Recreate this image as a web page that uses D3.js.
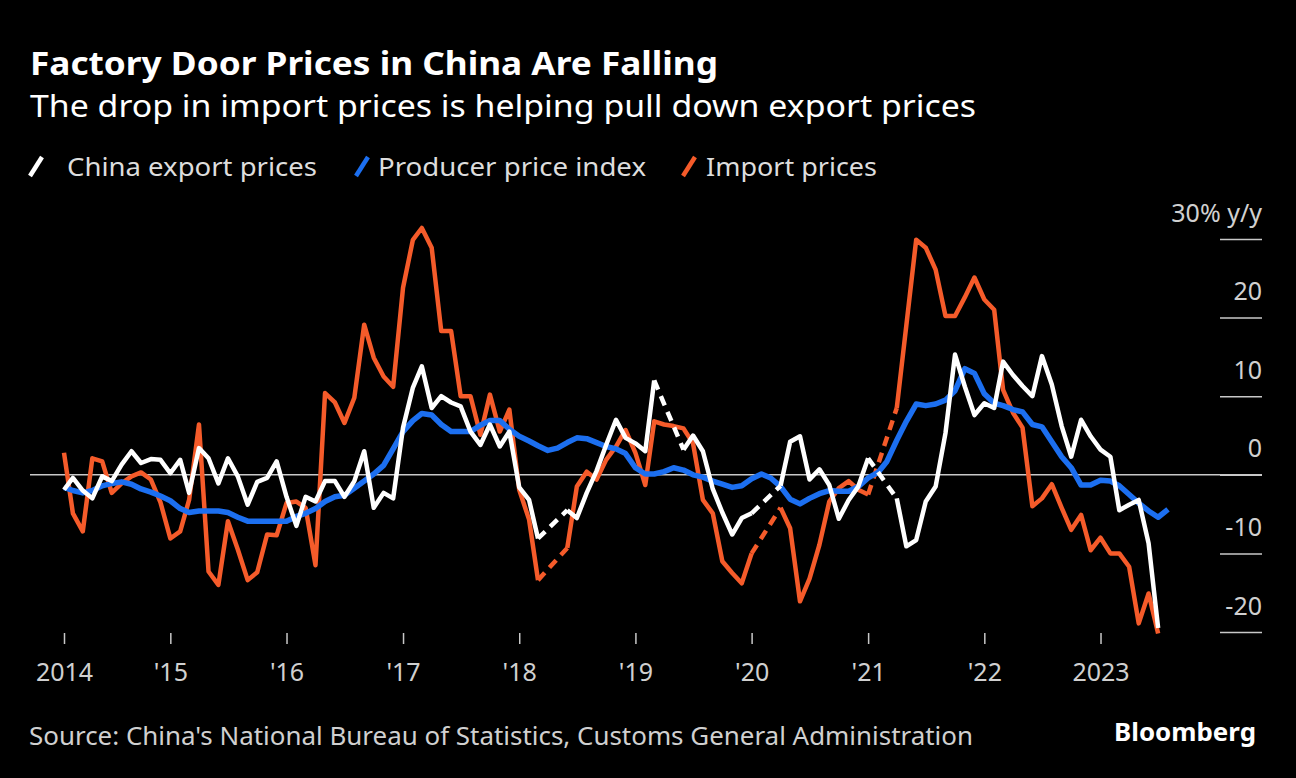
<!DOCTYPE html>
<html><head><meta charset="utf-8">
<script src="https://cdn.jsdelivr.net/npm/d3@7"></script>
<style>
html,body{margin:0;padding:0;background:#000;}
svg{display:block;}
text{font-family:"Noto Sans","Open Sans",sans-serif;}
</style></head><body>
<svg id="chart" width="1296" height="778"></svg>
<script>
// ---- data ----
const firstMonth = "2014-01";
const seriesNames = ["China export prices", "Producer price index", "Import prices"];
const seriesColors = ["#ffffff", "#1c6ff0", "#f55b2a"];
// China export prices, % y/y, Jan 2014 - Jun 2023 (null = missing)
const exportPrices = [
 -1.9,-0.4,-2.0,-3.0,-0.2,-0.8,1.3,3.0,1.5,2.0,1.9,0.2,
 1.9,-2.3,3.4,2.1,-1.1,2.1,-0.2,-3.8,-0.9,-0.4,1.7,-2.8,
 -6.5,-2.8,-3.4,-0.8,-0.8,-2.8,-0.8,3.0,-4.2,-2.3,-3.0,6.0,
 11.1,13.8,8.5,10.0,9.2,8.7,5.5,3.8,6.4,3.6,5.5,-1.6,
 -3.2,-8.1,null,null,-4.5,-5.5,-2.3,0.5,3.8,7.0,4.7,4.0,
 3.0,12.0,null,null,3.2,5.0,3.0,-1.8,-4.8,-7.6,-5.5,-4.9,
 null,null,-1.4,4.2,4.9,-0.6,0.7,-1.3,-5.6,-3.2,-1.5,2.1,
 null,null,-3.0,-9.1,-8.3,-3.4,-1.5,5.3,15.3,11.2,7.6,9.1,
 8.5,14.4,12.7,11.3,10.0,15.1,11.5,6.2,2.3,7.0,4.9,3.2,
 2.3,-4.5,-3.8,-3.2,-8.7,-19.5
];
// Producer price index, % y/y, Jan 2014 - Jul 2023
const producerPriceIndex = [
 -1.6,-2.0,-2.3,-2.0,-1.4,-1.1,-0.9,-1.2,-1.8,-2.2,-2.7,-3.3,
 -4.3,-4.8,-4.6,-4.6,-4.6,-4.8,-5.4,-5.9,-5.9,-5.9,-5.9,-5.9,
 -5.3,-4.9,-4.3,-3.4,-2.8,-2.6,-1.7,-0.8,0.1,1.2,3.3,5.5,
 6.9,7.8,7.6,6.4,5.5,5.5,5.5,6.3,6.9,6.9,5.8,4.9,
 4.3,3.7,3.1,3.4,4.1,4.7,4.6,4.1,3.6,3.3,2.7,0.9,
 0.1,0.1,0.4,0.9,0.6,0.0,-0.3,-0.8,-1.2,-1.6,-1.4,-0.5,
 0.1,-0.4,-1.5,-3.1,-3.7,-3.0,-2.4,-2.0,-2.1,-2.1,-1.5,-0.4,
 0.3,1.7,4.4,6.8,9.0,8.8,9.0,9.5,10.7,13.5,12.9,10.3,
 9.1,8.8,8.3,8.0,6.4,6.1,4.2,2.3,0.9,-1.3,-1.3,-0.7,
 -0.8,-1.4,-2.5,-3.6,-4.6,-5.4,-4.4
];
// Import prices, % y/y, Jan 2014 - Jun 2023 (null = missing)
const importPrices = [
 2.8,-4.9,-7.2,2.1,1.7,-2.3,-1.1,-0.2,0.3,-0.6,-3.5,-8.1,
 -7.2,-3.2,6.4,-12.3,-14.0,-5.9,-9.5,-13.4,-12.4,-7.6,-7.7,-3.6,
 -3.4,-4.2,-11.5,10.4,9.2,6.6,9.8,19.1,14.9,12.5,11.2,23.8,
 29.9,31.4,28.9,18.3,18.3,10.0,10.0,5.1,10.2,5.5,8.3,-1.9,
 -5.7,-13.4,null,null,-9.3,-1.5,0.4,-0.6,1.9,3.6,5.7,2.8,
 -1.3,6.8,6.4,6.2,5.9,4.0,-3.2,-4.9,-11.0,-12.5,-13.8,-10.0,
 null,null,-4.2,-6.8,-16.1,-13.2,-8.9,-3.4,-1.7,-0.8,-1.9,-2.5,
 null,null,8.5,19.0,29.9,28.9,26.1,20.2,20.2,22.6,25.1,22.3,
 21.0,10.8,7.9,6.0,-4.0,-3.0,-1.2,-4.2,-7.0,-5.1,-9.6,-8.0,
 -10.0,-10.0,-11.7,-18.9,-15.1,-20.2
];
const yTickValues = [-20, -10, 0, 10, 20, 30];
const yTickLabels = ["-20", "-10", "0", "10", "20", "30% y/y"];
const xTickLabels = ["2014", "'15", "'16", "'17", "'18", "'19", "'20", "'21", "'22", "2023"];
const titleText = "Factory Door Prices in China Are Falling";
const subtitleText = "The drop in import prices is helping pull down export prices";
const sourceText = "Source: China's National Bureau of Statistics, Customs General Administration";

// ---- helpers ----
const parseMonth = d3.timeParse("%Y-%m");
const start = parseMonth(firstMonth);
// monthly values are plotted at the end of their month
const pointDate = i => d3.timeMonth.offset(start, i + 1);
const toPoints = arr => arr.map((v, i) => ({date: pointDate(i), v}));

const svg = d3.select("#chart");
svg.append("rect").attr("width", 1296).attr("height", 778).attr("fill", "#000");

const x = d3.scaleTime()
  .domain([pointDate(0), pointDate(producerPriceIndex.length - 1)])
  .range([64, 1168]);
const y = d3.scaleLinear().domain([-20, 30]).range([632, 239]);

// ---- header ----
svg.append("text").attr("x", 30).attr("y", 75)
  .attr("font-size", 32).attr("font-weight", 700).attr("fill", "#fff")
  .attr("textLength", 688).attr("lengthAdjust", "spacingAndGlyphs")
  .text(titleText);
svg.append("text").attr("x", 30).attr("y", 117)
  .attr("font-size", 30).attr("fill", "#fff")
  .attr("textLength", 946).attr("lengthAdjust", "spacingAndGlyphs")
  .text(subtitleText);

// ---- legend ----
const legendX = [30, 356, 683];
const legendTextX = [67, 378, 706];
const legendTextW = [250, 268, 171];
const lg = svg.append("g");
seriesNames.forEach((name, i) => {
  lg.append("line")
    .attr("x1", legendX[i]).attr("y1", 176).attr("x2", legendX[i] + 12).attr("y2", 157)
    .attr("stroke", seriesColors[i]).attr("stroke-width", 4.5);
  lg.append("text").attr("x", legendTextX[i]).attr("y", 175.5)
    .attr("font-size", 25).attr("fill", "#dddddd")
    .attr("textLength", legendTextW[i]).attr("lengthAdjust", "spacingAndGlyphs")
    .text(name);
});

// ---- y axis (right) ----
const gy = svg.append("g").attr("transform", "translate(1262,0)")
  .call(d3.axisLeft(y).tickValues(yTickValues).tickSize(42)
    .tickFormat((d, i) => yTickLabels[i]));
gy.select(".domain").remove();
gy.selectAll(".tick line").attr("stroke", "#c8c8c8").attr("stroke-width", 1.5);
gy.selectAll(".tick text").attr("x", 0).attr("dy", 0).attr("y", -18)
  .attr("fill", "#d0d0d0").attr("font-size", 25)
  .style("font-family", "\"Noto Sans\",sans-serif");
// zero line across the plot
svg.append("line").attr("x1", 30).attr("x2", 1262)
  .attr("y1", y(0)).attr("y2", y(0))
  .attr("stroke", "#c8c8c8").attr("stroke-width", 1.5);

// ---- x axis ----
const xTickDates = [x.domain()[0]].concat(d3.range(2015, 2024).map(yr => new Date(yr, 0, 1)));
const gx = svg.append("g").attr("transform", "translate(0,633)")
  .call(d3.axisBottom(x).tickValues(xTickDates).tickSize(11)
    .tickFormat((d, i) => xTickLabels[i]));
gx.select(".domain").remove();
gx.selectAll(".tick line").attr("stroke", "#c8c8c8").attr("stroke-width", 1.5);
gx.selectAll(".tick text").attr("y", 48).attr("dy", 0)
  .attr("fill", "#d0d0d0").attr("font-size", 25)
  .style("font-family", "\"Noto Sans\",sans-serif");

// ---- lines ----
const line = d3.line().defined(d => d.v != null).x(d => x(d.date)).y(d => y(d.v));
function gapSegments(pts) {
  const segs = [];
  for (let i = 0; i < pts.length; i++) {
    if (pts[i].v == null && i > 0 && pts[i - 1].v != null) {
      let j = i;
      while (j < pts.length && pts[j].v == null) j++;
      if (j < pts.length) segs.push([pts[i - 1], pts[j]]);
    }
  }
  return segs;
}
const plot = svg.append("g");
const seriesData = [exportPrices, producerPriceIndex, importPrices];
const drawOrder = [2, 1, 0];
const widths = [4.5, 5.5, 4.5];
drawOrder.forEach(k => {
  const pts = toPoints(seriesData[k]);
  gapSegments(pts).forEach(seg => {
    plot.append("path").attr("d", d3.line().x(d => x(d.date)).y(d => y(d.v))(seg))
      .attr("fill", "none").attr("stroke", seriesColors[k]).attr("stroke-width", widths[k])
      .attr("stroke-dasharray", "10,7");
  });
  plot.append("path").attr("d", line(pts))
    .attr("fill", "none").attr("stroke", seriesColors[k]).attr("stroke-width", widths[k])
    .attr("stroke-linejoin", "round").attr("stroke-linecap", "butt");
});

// ---- footer ----
svg.append("text").attr("x", 29).attr("y", 745)
  .attr("font-size", 25).attr("fill", "#d0d0d0")
  .attr("textLength", 944).attr("lengthAdjust", "spacingAndGlyphs")
  .text(sourceText);
svg.append("text").attr("x", 1256).attr("y", 741).attr("text-anchor", "end")
  .attr("font-size", 25).attr("font-weight", 700).attr("fill", "#fff")
  .attr("textLength", 142).attr("lengthAdjust", "spacingAndGlyphs")
  .text("Bloomberg");
</script>
</body></html>
